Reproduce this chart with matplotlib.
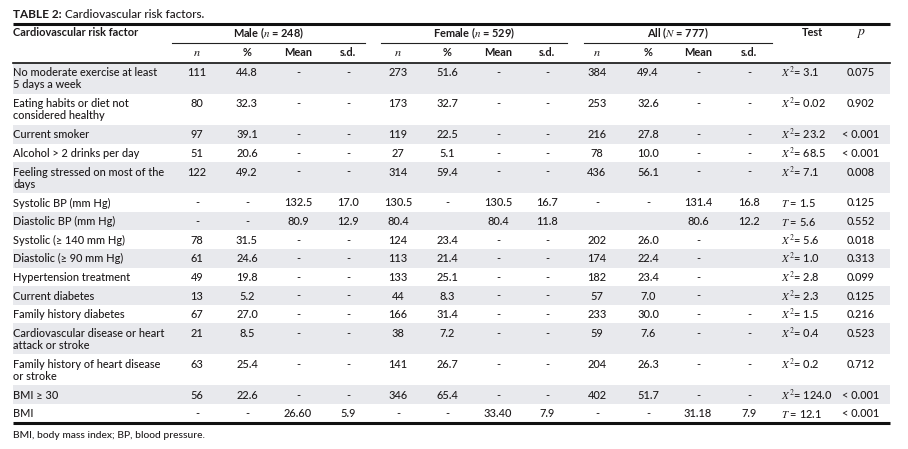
import matplotlib
matplotlib.use('Agg')
import matplotlib.pyplot as plt
from matplotlib.patches import Rectangle

# TABLE 2 — fatores de risco cardiovascular (tabela desenhada em matplotlib)

plt.rcParams['font.family'] = ['Lato', 'DejaVu Sans']
plt.rcParams['font.weight'] = 'medium'
plt.rcParams['mathtext.fontset'] = 'stix'

# ---------------- dados ----------------
fatores = [
    "No moderate exercise at least\n5 days a week",
    "Eating habits or diet not\nconsidered healthy",
    "Current smoker",
    "Alcohol > 2 drinks per day",
    "Feeling stressed on most of the\ndays",
    "Systolic BP (mm Hg)",
    "Diastolic BP (mm Hg)",
    "Systolic (≥ 140 mm Hg)",
    "Diastolic (≥ 90 mm Hg)",
    "Hypertension treatment",
    "Current diabetes",
    "Family history diabetes",
    "Cardiovascular disease or heart\nattack or stroke",
    "Family history of heart disease\nor stroke",
    "BMI ≥ 30",
    "BMI",
]

masc_n     = ["111", "80", "97", "51", "122", "-", "-", "78", "61", "49", "13", "67", "21", "63", "56", "-"]
masc_pct   = ["44.8", "32.3", "39.1", "20.6", "49.2", "-", "-", "31.5", "24.6", "19.8", "5.2", "27.0", "8.5", "25.4", "22.6", "-"]
masc_media = ["-", "-", "-", "-", "-", "132.5", "80.9", "-", "-", "-", "-", "-", "-", "-", "-", "26.60"]
masc_dp    = ["-", "-", "-", "-", "-", "17.0", "12.9", "-", "-", "-", "-", "-", "-", "-", "-", "5.9"]

fem_n      = ["273", "173", "119", "27", "314", "130.5", "80.4", "124", "113", "133", "44", "166", "38", "141", "346", "-"]
fem_pct    = ["51.6", "32.7", "22.5", "5.1", "59.4", "-", "", "23.4", "21.4", "25.1", "8.3", "31.4", "7.2", "26.7", "65.4", "-"]
fem_media  = ["-", "-", "-", "-", "-", "130.5", "80.4", "-", "-", "-", "-", "-", "-", "-", "-", "33.40"]
fem_dp     = ["-", "-", "-", "-", "-", "16.7", "11.8", "-", "-", "-", "-", "-", "-", "-", "-", "7.9"]

todos_n     = ["384", "253", "216", "78", "436", "-", "", "202", "174", "182", "57", "233", "59", "204", "402", "-"]
todos_pct   = ["49.4", "32.6", "27.8", "10.0", "56.1", "-", "", "26.0", "22.4", "23.4", "7.0", "30.0", "7.6", "26.3", "51.7", "-"]
todos_media = ["-", "-", "-", "-", "-", "131.4", "80.6", "-", "-", "-", "-", "-", "-", "-", "-", "31.18"]
todos_dp    = ["-", "-", "-", "-", "-", "16.8", "12.2", "", "", "", "", "-", "-", "-", "-", "7.9"]

teste_tipo  = ["X2", "X2", "X2", "X2", "X2", "T", "T", "X2", "X2", "X2", "X2", "X2", "X2", "X2", "X2", "T"]
teste_valor = ["3.1", "0.02", "23.2", "68.5", "7.1", "1.5", "5.6", "5.6", "1.0", "2.8", "2.3", "1.5", "0.4", "0.2", "124.0", "12.1"]
p_valor     = ["0.075", "0.902", "< 0.001", "< 0.001", "0.008", "0.125", "0.552", "0.018", "0.313",
               "0.099", "0.125", "0.216", "0.523", "0.712", "< 0.001", "< 0.001"]

grupos = ["Male ($n$ = 248)", "Female ($n$ = 529)", "All ($N$ = 777)"]
sub_cab = ["$n$", "%", "Mean", "s.d."]

# ---------------- layout ----------------
cor_txt = '#1E1B1C'
cor_zebra = '#E8E9ED'
fs = 7.9
x_esq, x_dir = 13, 890
x_cols = [197, 247, 298, 348, 398, 447, 498, 547, 597, 648, 698, 749]
x_teste, x_p = 781, 861
grupo_lim = [(172, 365), (381, 567), (584, 772)]
y_topo_corpo = 63
h_linha1, h_linha2 = 18.6, 31.0

fig = plt.figure(figsize=(9.08, 4.49), dpi=100)
ax = fig.add_axes([0, 0, 1, 1])
ax.set_xlim(0, 908)
ax.set_ylim(449, 0)
ax.axis('off')

# titulo
t1 = ax.text(x_esq, 15, "TABLE 2:", fontsize=8.5, fontweight='bold', color=cor_txt, va='center')
fig.canvas.draw()
bb = t1.get_window_extent().transformed(ax.transData.inverted())
ax.text(bb.x1 + 3, 15, "Cardiovascular risk factors.", fontsize=8.5, color=cor_txt, va='center')

# linhas de cabeçalho
ax.plot([x_esq, x_dir], [24, 24], color='#111111', lw=2.2, solid_capstyle='butt')
ax.text(x_esq, 33, "Cardiovascular risk factor", fontsize=fs, fontweight='bold', color=cor_txt, va='center')
for g, (a, b) in zip(grupos, grupo_lim):
    ax.text((a + b) / 2, 33, g, fontsize=fs, fontweight='bold', color=cor_txt, va='center', ha='center')
    ax.plot([a, b], [43, 43], color='#222222', lw=0.8)
ax.text(812, 33, "Test", fontsize=fs, fontweight='bold', color=cor_txt, va='center', ha='center')
ax.text(x_p, 33, "$p$", fontsize=fs + 2, color=cor_txt, va='center', ha='center')
for i, x in enumerate(x_cols):
    rot = sub_cab[i % 4]
    ax.text(x, 53, rot, fontsize=fs + (1 if i % 4 == 0 else 0), fontweight='bold',
            color=cor_txt, va='center', ha='center')
ax.plot([x_esq, x_dir], [y_topo_corpo, y_topo_corpo], color='#111111', lw=1.2)

# corpo
colunas = [masc_n, masc_pct, masc_media, masc_dp, fem_n, fem_pct, fem_media, fem_dp,
           todos_n, todos_pct, todos_media, todos_dp]
y = y_topo_corpo
for i, fator in enumerate(fatores):
    linhas = fator.split("\n")
    h = h_linha2 if len(linhas) > 1 else h_linha1
    if i % 2 == 0:
        ax.add_patch(Rectangle((x_esq, y), x_dir - x_esq, h, color=cor_zebra, lw=0))
    yt = y + 9.8
    for k, l in enumerate(linhas):
        ax.text(x_esq, yt + 12 * k, l, fontsize=fs, color=cor_txt, va='center')
    for x, col in zip(x_cols, colunas):
        ax.text(x, yt, col[i], fontsize=fs, color=cor_txt, va='center', ha='center')
    if teste_tipo[i] == "X2":
        s = r"$X^{2}$= " + teste_valor[i]
    else:
        s = r"$T$ = " + teste_valor[i]
    ax.text(x_teste, yt, s, fontsize=fs, color=cor_txt, va='center', ha='left')
    ax.text(x_p, yt, p_valor[i], fontsize=fs, color=cor_txt, va='center', ha='center')
    y += h

ax.plot([x_esq, x_dir], [y + 0.5, y + 0.5], color='#111111', lw=2.2, solid_capstyle='butt')
ax.text(x_esq, y + 13, "BMI, body mass index; BP, blood pressure.", fontsize=7.4,
        color=cor_txt, va='center')

fig.savefig('out.png', dpi=100, facecolor='white')
